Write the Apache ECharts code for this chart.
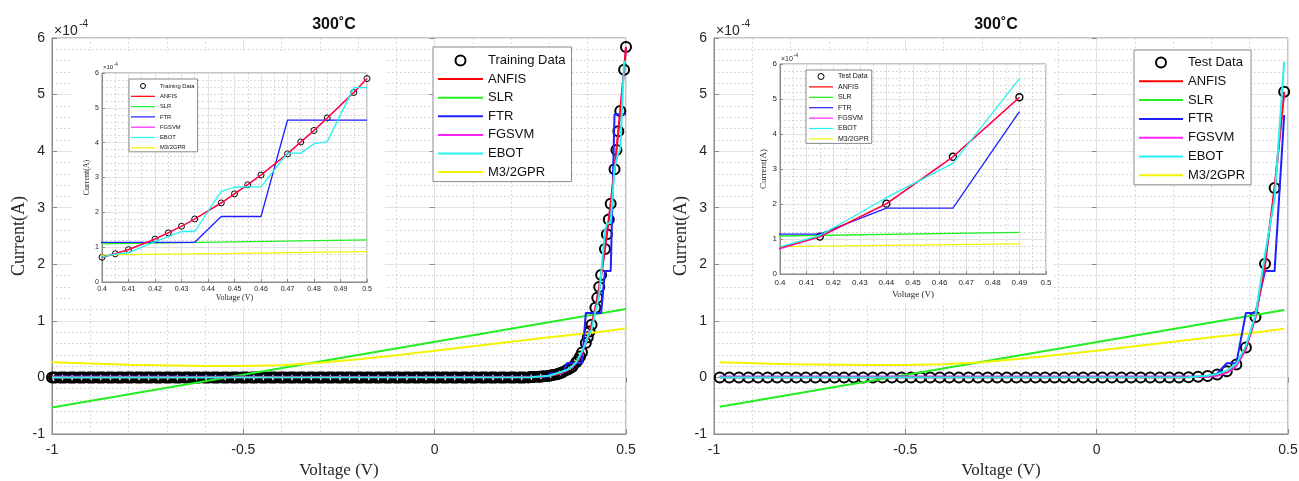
<!DOCTYPE html>
<html>
<head>
<meta charset="utf-8">
<script src="https://cdn.jsdelivr.net/npm/echarts@6/dist/echarts.min.js"></script>
<style>
  html, body { margin: 0; padding: 0; background: #fff; }
  #chart { width: 1299px; height: 481px; }
</style>
</head>
<body>
<div id="chart"></div>
<script>
// Diode I-V at 300 °C. Currents are in units of 1e-4 A (axis multiplier shown as ×10^-4).

// Training voltages (V)
const trainV = [
  -1,-0.995,-0.99,-0.98, -0.975,-0.97,-0.965,-0.955, -0.95,-0.945,-0.94,-0.93, -0.925,-0.92,-0.915,-0.905,
  -0.9,-0.895,-0.89,-0.88, -0.875,-0.87,-0.865,-0.855, -0.85,-0.845,-0.84,-0.83, -0.825,-0.82,-0.815,-0.805,
  -0.8,-0.795,-0.79,-0.78, -0.775,-0.77,-0.765,-0.755, -0.75,-0.745,-0.74,-0.73, -0.725,-0.72,-0.715,-0.705,
  -0.7,-0.695,-0.69,-0.68, -0.675,-0.67,-0.665,-0.655, -0.65,-0.645,-0.64,-0.63, -0.625,-0.62,-0.615,-0.605,
  -0.6,-0.595,-0.59,-0.58, -0.575,-0.57,-0.565,-0.555, -0.55,-0.545,-0.54,-0.53, -0.525,-0.52,-0.515,-0.505,
  -0.5,-0.495,-0.49,-0.48, -0.475,-0.47,-0.465,-0.455, -0.45,-0.445,-0.44,-0.43, -0.425,-0.42,-0.415,-0.405,
  -0.4,-0.395,-0.39,-0.38, -0.375,-0.37,-0.365,-0.355, -0.35,-0.345,-0.34,-0.33, -0.325,-0.32,-0.315,-0.305,
  -0.3,-0.295,-0.29,-0.28, -0.275,-0.27,-0.265,-0.255, -0.25,-0.245,-0.24,-0.23, -0.225,-0.22,-0.215,-0.205,
  -0.2,-0.195,-0.19,-0.18, -0.175,-0.17,-0.165,-0.155, -0.15,-0.145,-0.14,-0.13, -0.125,-0.12,-0.115,-0.105,
  -0.1,-0.095,-0.09,-0.08, -0.075,-0.07,-0.065,-0.055, -0.05,-0.045,-0.04,-0.03, -0.025,-0.02,-0.015,-0.005,
  0,0.005,0.01,0.02, 0.025,0.03,0.035,0.045, 0.05,0.055,0.06,0.07, 0.075,0.08,0.085,0.095,
  0.1,0.105,0.11,0.12, 0.125,0.13,0.135,0.145, 0.15,0.155,0.16,0.17, 0.175,0.18,0.185,0.195,
  0.2,0.205,0.21,0.22, 0.225,0.23,0.235,0.245,
  0.25,0.255,0.26,0.27, 0.275,0.28,0.285,0.295, 0.3,0.305,0.31,0.32, 0.325,0.33,0.335,0.345,
  0.35,0.355,0.36,0.37, 0.375,0.38,0.385,0.395, 0.4,0.405,0.41,0.42, 0.425,0.43,0.435,0.445,
  0.45,0.455,0.46,0.47, 0.475,0.48,0.485,0.495, 0.5
];

// Training currents (×1e-4 A), same order as trainV
const trainI = [
  0,0,0,0,0,0,0,0,0,0,0,0,0,0,0,0,0,0,0,0,
  0,0,0,0,0,0,0,0,0,0,0,0,0,0,0,0,0,0,0,0,
  0,0,0,0,0,0,0,0,0,0,0,0,0,0,0,0,0,0,0,0,
  0,0,0,0,0,0,0,0,0,0,0,0,0,0,0,0,0,0,0,0,
  0,0,0,0,0,0,0,0,0,0,0,0,0,0,0,0,0,0,0,0,
  0,0,0,0,0,0,0,0,0,0,0,0,0,0,0,0,0,0,0,0,
  0,0,0,0,0,0,0,0,0,0,0,0,0,0,0,0,0,0,0,0,
  0,0,0,0,0,0,0,0,0,0,0,0,0,0,0,0,0,0,0,0,
  0,0,0,0,0,0,0,0,0,0,0,0,0,0,0,0,0,0,0,0,
  0,0,0,0,0,0,0,0,0,0,0,0,0,0,0,0,0,0,0,0,
  0.007,0.008,0.009,0.012, 0.014,0.017,0.02,0.027, 0.031,0.037,0.043,0.058, 0.068,0.08,0.094,0.13,
  0.15,0.17,0.19,0.27, 0.31,0.37,0.44,0.61, 0.71,0.81,0.93,1.23, 1.41,1.6,1.81,2.27,
  2.53,2.79,3.07,3.68, 4.02,4.35,4.71,5.44, 5.84
];

// Test voltages (V)
const testV = [
  -0.985,-0.96,-0.935,-0.91,-0.885,-0.86,-0.835,-0.81,-0.785,-0.76,
  -0.735,-0.71,-0.685,-0.66,-0.635,-0.61,-0.585,-0.56,-0.535,-0.51,
  -0.485,-0.46,-0.435,-0.41,-0.385,-0.36,-0.335,-0.31,-0.285,-0.26,
  -0.235,-0.21,-0.185,-0.16,-0.135,-0.11,-0.085,-0.06,-0.035,-0.01,
  0.015,0.04,0.065,0.09,0.115,0.14,0.165,0.19,0.215,0.24,
  0.265,0.29,0.315,0.34,0.365,0.39,0.415,0.44,0.465,0.49
];

// Test currents (×1e-4 A)
const testI = [
  0,0,0,0,0,0,0,0,0,0,
  0,0,0,0,0,0,0,0,0,0,
  0,0,0,0,0,0,0,0,0,0,
  0,0,0,0,0,0,0,0,0,0,
  0,0,0,0,0,0,0,0,0,0.005,
  0.011,0.024,0.05,0.11,0.23,0.53,1.07,2.01,3.35,5.05
];

// Model predictions on the training set, [V, I]
const anfisTrain = [[-1,0],[0.245,0.006],[0.25,0.007],[0.27,0.012],[0.285,0.02],[0.295,0.027],[0.3,0.031],[0.31,0.043],
  [0.32,0.058],[0.33,0.08],[0.345,0.13],[0.355,0.17],[0.36,0.19],[0.37,0.27],[0.375,0.31],[0.38,0.37],[0.385,0.44],
  [0.395,0.61],[0.4,0.71],[0.405,0.81],[0.41,0.93],[0.42,1.23],[0.425,1.41],[0.43,1.6],[0.435,1.81],[0.445,2.27],
  [0.45,2.53],[0.455,2.79],[0.46,3.07],[0.47,3.68],[0.475,4.02],[0.48,4.35],[0.485,4.71],[0.495,5.44],[0.5,5.84]];
const slrTrain = [[-1,-0.53],[0.5,1.21]];
const ftrTrain = [[-1,0.01],[0.295,0.01],[0.3,0.07],[0.335,0.07],[0.345,0.25],[0.385,0.25],[0.395,1.14],[0.435,1.14],
  [0.445,1.88],[0.46,1.88],[0.47,4.65],[0.5,4.65]];
const fgsvmTrain = [[-1,0.01],[0.25,0.005],[0.3,0.03],[0.33,0.075],[0.35,0.14],[0.36,0.18],[0.37,0.26],[0.38,0.36],
  [0.385,0.43],[0.395,0.6],[0.4,0.71],[0.41,0.93],[0.42,1.23],[0.43,1.6],[0.435,1.81],[0.445,2.27],[0.45,2.53],
  [0.46,3.07],[0.47,3.68],[0.48,4.35],[0.485,4.71],[0.495,5.44],[0.5,5.84]];
const ebotTrain = [[-1,0],[0.25,0.004],[0.3,0.03],[0.345,0.13],[0.36,0.2],[0.37,0.27],[0.38,0.4],[0.385,0.46],
  [0.395,0.62],[0.4,0.72],[0.405,0.8],[0.41,0.84],[0.42,1.16],[0.425,1.3],[0.43,1.45],[0.435,1.45],[0.445,2.6],
  [0.45,2.72],[0.455,2.73],[0.46,2.73],[0.47,3.7],[0.475,3.7],[0.48,3.97],[0.485,4.03],[0.495,5.58],[0.5,5.58]];
const gprTrain = [[-1,0.27],[-0.8,0.225],[-0.6,0.2],[-0.5,0.2],[-0.4,0.215],[-0.3,0.26],[-0.2,0.32],[-0.1,0.39],
  [0,0.47],[0.1,0.55],[0.2,0.63],[0.3,0.71],[0.4,0.78],[0.45,0.82],[0.5,0.87]];

// Model predictions on the test set, [V, I]
const anfisTest = [[-0.985,0],[0.215,0],[0.24,0.005],[0.265,0.011],[0.29,0.024],[0.315,0.05],[0.34,0.11],
  [0.365,0.23],[0.39,0.53],[0.415,1.07],[0.44,2.01],[0.465,3.35],[0.49,5.05]];
const slrTest = [[-0.985,-0.52],[0.49,1.19]];
const ftrTest = [[-0.985,0.01],[0.29,0.01],[0.315,0.07],[0.34,0.25],[0.365,0.25],[0.39,1.14],[0.415,1.14],
  [0.44,1.88],[0.465,1.88],[0.49,4.64]];
const fgsvmTest = [[-0.985,0.01],[0.29,0.01],[0.315,0.03],[0.34,0.08],[0.365,0.2],[0.39,0.5],[0.415,1.06],
  [0.44,2.0],[0.465,3.34],[0.49,5.04]];
const ebotTest = [[-0.985,0],[0.24,0.005],[0.29,0.03],[0.315,0.06],[0.34,0.12],[0.365,0.24],[0.39,0.56],
  [0.415,1.1],[0.44,2.18],[0.465,3.16],[0.49,5.58]];
const gprTest = [[-0.985,0.27],[-0.8,0.235],[-0.6,0.22],[-0.5,0.22],[-0.4,0.235],[-0.3,0.27],[-0.2,0.33],
  [-0.1,0.4],[0,0.47],[0.1,0.55],[0.2,0.63],[0.3,0.71],[0.4,0.78],[0.49,0.86]];

const modelNames = ['ANFIS', 'SLR', 'FTR', 'FGSVM', 'EBOT', 'M3/2GPR'];
const modelColors = {
  'ANFIS': '#ff0000', 'SLR': '#22ee22', 'FTR': '#1f1fff',
  'FGSVM': '#ff22ff', 'EBOT': '#22f2f2', 'M3/2GPR': '#f4f400'
};

const SANS = '"Liberation Sans", Arial, sans-serif';
const SERIF = '"Liberation Serif", "Times New Roman", serif';
const INK = '#262626';
const FRAME = '#8a8a8a';

const chart = echarts.init(document.getElementById('chart'), null, { renderer: 'canvas' });

// plot boxes: two main panels and two zoomed insets
const grids = [
  { left: 52, top: 38, width: 574, height: 396 },
  { left: 714, top: 38, width: 574, height: 396 },
  { left: 102, top: 73, width: 265, height: 209, z: 3 },
  { left: 780, top: 64, width: 266, height: 210, z: 3 }
].map(g => Object.assign({
  show: true, borderColor: FRAME, borderWidth: 1, backgroundColor: 'transparent',
  outerBoundsMode: 'none', containLabel: false
}, g));

function xAxisCfg(gi, o) {
  return {
    gridIndex: gi, type: 'value', min: o.min, max: o.max, interval: o.interval, z: o.z || 0,
    name: 'Voltage (V)', nameLocation: 'middle', nameGap: o.nameGap,
    nameTextStyle: { fontFamily: SERIF, fontSize: o.nameSize, color: INK },
    axisLine: { show: true, onZero: false, lineStyle: { color: FRAME, width: 1 } },
    axisTick: { show: true, inside: true, length: o.tick, lineStyle: { color: FRAME } },
    axisLabel: { fontFamily: SANS, fontSize: o.labelSize, color: INK, margin: o.margin, hideOverlap: false },
    splitLine: { show: true, lineStyle: { color: '#e2e2e2', width: 1 } },
    minorTick: { show: false, splitNumber: o.minor },
    minorSplitLine: { show: true, lineStyle: { color: '#cdcdcd', width: 1, type: [1.5, 2.5] } }
  };
}
function yAxisCfg(gi, o) {
  return {
    gridIndex: gi, type: 'value', min: o.min, max: o.max, interval: o.interval, z: o.z || 0,
    name: 'Current(A)', nameLocation: 'middle', nameGap: o.nameGap,
    nameTextStyle: { fontFamily: SERIF, fontSize: o.nameSize, color: INK },
    axisLine: { show: true, onZero: false, lineStyle: { color: FRAME, width: 1 } },
    axisTick: { show: true, inside: true, length: o.tick, lineStyle: { color: FRAME } },
    axisLabel: { fontFamily: SANS, fontSize: o.labelSize, color: INK, margin: o.margin },
    splitLine: { show: true, lineStyle: { color: '#e2e2e2', width: 1 } },
    minorTick: { show: false, splitNumber: 5 },
    minorSplitLine: { show: true, lineStyle: { color: '#cdcdcd', width: 1, type: [1.5, 2.5] } }
  };
}
// tick marks mirrored on the top and right edges of a box
function mirrorAxis(gi, pos, min, max, interval, len, z) {
  return {
    gridIndex: gi, type: 'value', position: pos, min: min, max: max, interval: interval, z: z || 0,
    axisLine: { show: false }, axisLabel: { show: false }, splitLine: { show: false },
    axisTick: { show: true, inside: true, length: len, lineStyle: { color: FRAME } }
  };
}

const xAxes = [
  xAxisCfg(0, { min: -1, max: 0.5, interval: 0.5, minor: 5, labelSize: 14, margin: 9, nameSize: 17, nameGap: 27, tick: 5 }),
  xAxisCfg(1, { min: -1, max: 0.5, interval: 0.5, minor: 5, labelSize: 14, margin: 9, nameSize: 17, nameGap: 27, tick: 5 }),
  xAxisCfg(2, { min: 0.4, max: 0.5, interval: 0.01, minor: 2, labelSize: 7, margin: 4, nameSize: 8, nameGap: 12, tick: 3, z: 3 }),
  xAxisCfg(3, { min: 0.4, max: 0.5, interval: 0.01, minor: 2, labelSize: 8, margin: 5, nameSize: 9, nameGap: 16, tick: 3, z: 3 }),
  mirrorAxis(0, 'top', -1, 0.5, 0.5, 5),
  mirrorAxis(1, 'top', -1, 0.5, 0.5, 5)
];
const yAxes = [
  yAxisCfg(0, { min: -1, max: 6, interval: 1, labelSize: 14, margin: 7, nameSize: 18, nameGap: 23, tick: 5 }),
  yAxisCfg(1, { min: -1, max: 6, interval: 1, labelSize: 14, margin: 7, nameSize: 18, nameGap: 23, tick: 5 }),
  yAxisCfg(2, { min: 0, max: 6, interval: 1, labelSize: 7, margin: 3, nameSize: 8, nameGap: 11, tick: 3, z: 3 }),
  yAxisCfg(3, { min: 0, max: 6, interval: 1, labelSize: 8, margin: 3, nameSize: 9, nameGap: 12, tick: 3, z: 3 }),
  mirrorAxis(0, 'right', -1, 6, 1, 5),
  mirrorAxis(1, 'right', -1, 6, 1, 5)
];

function pairs(xs, ys) { return xs.map((x, i) => [x, ys[i]]); }

function dataSeries(name, xs, ys, gi, size, border, z) {
  return {
    type: 'scatter', name: name, xAxisIndex: gi, yAxisIndex: gi, data: pairs(xs, ys),
    symbol: 'circle', symbolSize: size, clip: true, silent: true, z: z,
    itemStyle: { color: 'rgba(255,255,255,0)', borderColor: '#000', borderWidth: border, opacity: 1 }
  };
}
function modelSeries(name, data, gi, width, z) {
  return {
    type: 'line', name: name, xAxisIndex: gi, yAxisIndex: gi, data: data,
    symbol: 'none', showSymbol: false, clip: true, silent: true, z: z,
    lineStyle: { color: modelColors[name], width: width, opacity: name === 'ANFIS' ? 0.85 : 1 },
    itemStyle: { color: modelColors[name] }
  };
}

const trainModels = { 'ANFIS': anfisTrain, 'SLR': slrTrain, 'FTR': ftrTrain, 'FGSVM': fgsvmTrain, 'EBOT': ebotTrain, 'M3/2GPR': gprTrain };
const testModels = { 'ANFIS': anfisTest, 'SLR': slrTest, 'FTR': ftrTest, 'FGSVM': fgsvmTest, 'EBOT': ebotTest, 'M3/2GPR': gprTest };
// drawing order (later on top)
const drawOrder = ['SLR', 'M3/2GPR', 'FTR', 'FGSVM', 'ANFIS', 'EBOT'];

const series = [];
[[0, 'Training Data', trainV, trainI, trainModels, 10, 2, 2.0, 2],
 [1, 'Test Data', testV, testI, testModels, 10, 2, 2.0, 2],
 [2, 'Training Data', trainV, trainI, trainModels, 6, 1, 1.3, 5],
 [3, 'Test Data', testV, testI, testModels, 7, 1.3, 1.3, 5]].forEach(([gi, dname, xs, ys, models, sz, bw, lw, z0]) => {
  series.push(dataSeries(dname, xs, ys, gi, sz, bw, z0));
  drawOrder.forEach((m, k) => series.push(modelSeries(m, models[m], gi, lw, z0 + 1 + k * 0.1)));
});

// legend entries: an open circle for the data, a plain stroke for each model
function legendCfg(first, o) {
  const stroke = 'path://M0,0H' + o.iw + 'V' + o.lw + 'H0Z';
  const items = [{ name: first, itemStyle: { borderWidth: o.bw } }].concat(
    modelNames.map(n => ({ name: n, icon: stroke, itemStyle: { borderWidth: 0, color: modelColors[n] } })));
  return {
    data: items, orient: 'vertical', selectedMode: false,
    left: o.left, top: o.top, padding: o.padding, itemGap: o.gap,
    itemWidth: o.iw, itemHeight: o.ih, backgroundColor: '#fff',
    borderColor: FRAME, borderWidth: 1, borderRadius: 0, z: o.z || 6,
    textStyle: { fontFamily: SANS, fontSize: o.fs, color: '#111', padding: 0 }
  };
}
const legends = [
  legendCfg('Training Data', { left: 433, top: 47, padding: [7, 6, 3, 5], gap: 5.6, iw: 45, ih: 10, fs: 13, lw: 2, bw: 2 }),
  legendCfg('Test Data', { left: 1134, top: 50, padding: [6, 6, 3, 5], gap: 5.8, iw: 44, ih: 10, fs: 13, lw: 2, bw: 2 }),
  legendCfg('Training Data', { left: 129, top: 79, padding: [4, 3, 1, 2], gap: 4.3, iw: 24, ih: 5, fs: 5.8, lw: 1.2, bw: 1 }),
  legendCfg('Test Data', { left: 806, top: 70, padding: [3, 3, 1, 3], gap: 3.4, iw: 24, ih: 6, fs: 7, lw: 1.2, bw: 1 })
];

function multiplier(x, y, big, small) {
  return [
    { type: 'text', x: x, y: y, z: 10, style: { text: '×10', font: big + 'px ' + SANS, fill: INK, textVerticalAlign: 'middle' } },
    { type: 'text', x: x + big * 1.8, y: y - big * 0.45, z: 10, style: { text: '-4', font: small + 'px ' + SANS, fill: INK, textVerticalAlign: 'middle' } }
  ];
}

const graphic = [
  // white panels behind the insets
  { type: 'rect', shape: { x: 72, y: 51, width: 313, height: 255 }, style: { fill: '#fff' }, z: 1, silent: true },
  { type: 'rect', shape: { x: 754, y: 51, width: 300, height: 252 }, style: { fill: '#fff' }, z: 1, silent: true },
  { type: 'text', x: 334, y: 25, z: 10, style: { text: '300˚C', font: 'bold 16px ' + SANS, fill: '#111', textAlign: 'center', textVerticalAlign: 'middle' } },
  { type: 'text', x: 996, y: 25, z: 10, style: { text: '300˚C', font: 'bold 16px ' + SANS, fill: '#111', textAlign: 'center', textVerticalAlign: 'middle' } }
].concat(multiplier(54, 31, 14, 10), multiplier(716, 31, 14, 10), multiplier(103, 67, 6, 4.5), multiplier(781, 59, 7, 5));

chart.setOption({
  animation: false,
  backgroundColor: '#fff',
  grid: grids,
  xAxis: xAxes,
  yAxis: yAxes,
  legend: legends,
  series: series,
  graphic: graphic
});
</script>
</body>
</html>
